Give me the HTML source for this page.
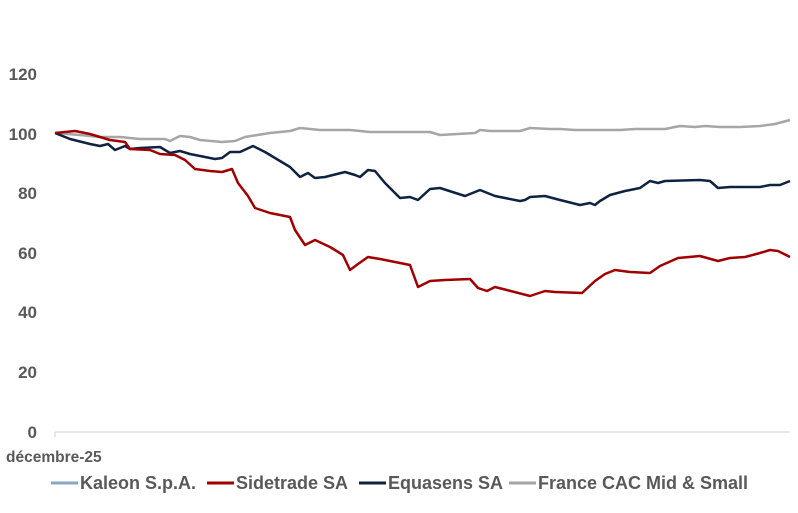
<!DOCTYPE html>
<html><head><meta charset="utf-8"><style>
body{margin:0;background:#fff;}
svg text{font-family:"Liberation Sans",sans-serif;font-weight:bold;fill:#595959;}
</style></head><body>
<svg width="798" height="508" xmlns="http://www.w3.org/2000/svg">
<g font-size="17" text-anchor="end">
<text x="37" y="80">120</text><text x="37" y="140">100</text><text x="37" y="199">80</text>
<text x="37" y="259">60</text><text x="37" y="318">40</text><text x="37" y="378">20</text><text x="37" y="438">0</text>
</g>
<line x1="55" y1="432" x2="790" y2="432" stroke="#d0d0d0" stroke-width="1"/>
<line x1="55" y1="432" x2="55" y2="437" stroke="#d0d0d0" stroke-width="1"/>
<text x="6" y="462" font-size="15.5">décembre-25</text>
<g fill="none" stroke-width="2.5" stroke-linejoin="round">
<polyline stroke="#a6a6a6" points="55,133 80,135 100,137 120,137 140,139 165,139 170,141 180,136 190,137 200,140 222,142 235,141 245,137 270,133 290,131 300,128 320,130 350,130 370,132 400,132 430,132 440,135 475,133 480,130 490,131 520,131 530,128 550,129 560,129 575,130 600,130 620,130 635,129 650,129 665,129 680,126 695,127 705,126 720,127 740,127 760,126 775,124 790,120"/>
<polyline stroke="#0f2242" points="55,133 70,139 90,144 100,146 108,144 115,150 125,146 130,149 140,148 160,147 170,153 180,151 190,154 200,156 215,159 222,158 230,152 240,152 253,146 265,152 290,167 300,177 308,173 315,178 325,177 345,172 355,175 360,177 368,170 375,171 385,183 400,198 410,197 418,200 430,189 440,188 465,196 480,190 495,196 520,201 525,200 530,197 545,196 560,200 580,205 590,203 595,205 600,201 610,195 625,191 640,188 650,181 658,183 665,181 700,180 710,181 718,188 730,187 760,187 770,185 780,185 790,181"/>
<polyline stroke="#a00000" points="55,133 75,131 90,134 110,140 125,142 130,149 150,150 160,154 175,155 185,160 195,169 210,171 222,172 232,169 238,183 248,196 255,208 270,213 290,217 295,230 305,245 315,240 330,247 343,255 350,270 358,264 368,257 380,259 395,262 410,265 418,287 430,281 445,280 470,279 478,288 487,291 495,287 530,296 545,291 555,292 582,293 595,281 605,274 615,270 630,272 650,273 660,266 678,258 700,256 718,261 730,258 745,257 760,253 770,250 778,251 790,257"/>
</g>
<g font-size="18">
<line x1="51" y1="483" x2="78" y2="483" stroke="#8aa7c4" stroke-width="3"/>
<text x="80" y="489">Kaleon S.p.A.</text>
<line x1="207" y1="483" x2="234" y2="483" stroke="#a00000" stroke-width="3"/>
<text x="236" y="489">Sidetrade SA</text>
<line x1="359" y1="483" x2="386" y2="483" stroke="#0f2242" stroke-width="3"/>
<text x="388" y="489">Equasens SA</text>
<line x1="509" y1="483" x2="536" y2="483" stroke="#a6a6a6" stroke-width="3"/>
<text x="538" y="489">France CAC Mid &amp; Small</text>
</g>
</svg>
</body></html>
